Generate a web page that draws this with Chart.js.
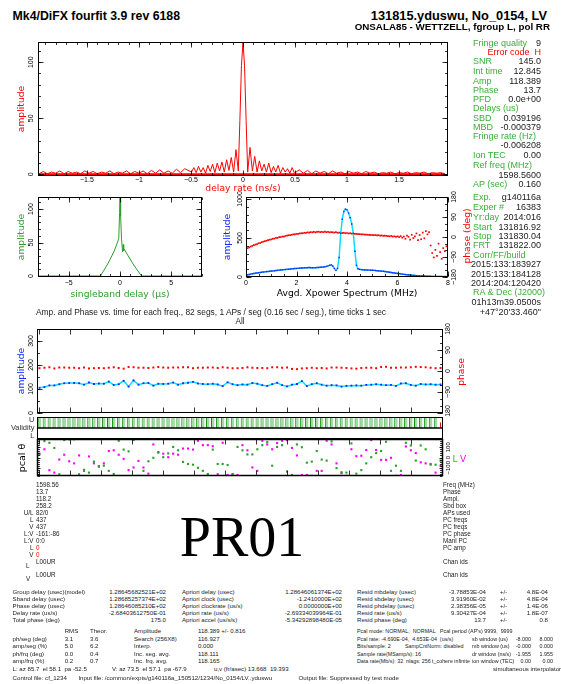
<!DOCTYPE html>
<html>
<head>
<meta charset="utf-8">
<script src="https://cdn.jsdelivr.net/npm/chart.js@4.4.1/dist/chart.umd.min.js"></script>
<style>
	body { margin: 0; background: #fff; }
	#main { position: relative; width: 561px; height: 684px; overflow: hidden; font-family: "Liberation Sans", Arial, sans-serif; }
	#main canvas { position: absolute; }
	.t { position: absolute; white-space: pre; line-height: 1; }
</style>
</head>
<body>
<div id="main"></div>
<script>
// ---- delay rate spectrum (ns/s vs amplitude) ----
const rateX = [-1.96,-1.92,-1.88,-1.84,-1.80,-1.76,-1.72,-1.68,-1.64,-1.60,-1.56,-1.52,-1.48,-1.44,-1.40,-1.36,-1.32,-1.28,-1.24,-1.20,-1.16,-1.12,-1.08,-1.04,-1.00,-0.96,-0.92,-0.88,-0.84,-0.80,-0.76,-0.72,-0.68,-0.64,-0.60,-0.56,
	-0.495,-0.4725,-0.45,-0.4275,-0.405,-0.3825,-0.36,-0.3375,-0.315,-0.2925,-0.27,-0.2475,-0.225,-0.2025,-0.18,-0.1575,-0.135,-0.1125,-0.09,-0.0675,-0.045,-0.03,-0.015,0,
	0.015,0.03,0.045,0.0675,0.09,0.1125,0.135,0.1575,0.18,0.2025,0.225,0.2475,0.27,0.2925,0.315,0.3375,0.36,0.3825,0.405,0.4275,0.45,0.4725,0.495,
	0.54,0.58,0.62,0.66,0.70,0.74,0.78,0.82,0.86,0.90,0.94,0.98,1.02,1.06,1.10,1.14,1.18,1.22,1.26,1.30,1.34,1.38,1.42,1.46,1.50,1.54,1.58,1.62,1.66,1.70,1.74,1.78,1.82,1.86,1.90,1.94]
const rateAmp = [0.5,2.5,0.5,2,1,3,0.5,2.5,1,2,0.5,3,1,2.5,0.5,2,1,3,0.5,2,1,3,0.5,2.5,1,3,0.5,3.5,1,4,1,3,1,4.5,1.5,5,
	2,6,1.5,7,2,6,1,8,2.5,9,1.5,10,3,11,2,13,3.5,15,2,22,3,48,97,118,
	97,48,2,24,3,16,2,12,3,9,2,10,1.5,7,2,8,1,6,2,5,1,6,1,
	4,1,3.5,0.5,3,1,2.5,0.5,3,1,2,0.5,2.5,1,2,0.5,2.5,1,2,0.5,1.5,1,2,0.5,1.5,1,2,0.5,1.5,1,2,0.5,1.5,1,1.5,0.5]
const rateFloor = 0
const rateTicks = [-1.5, -1, -0.5, 0, 0.5, 1, 1.5]
const rateAmpTicks = [0, 50, 100]

// ---- singleband delay (us vs amplitude) ----
const sbdX = [-8, -1.9, -1.2, -0.6, -0.3, -0.12, -0.04, 0, 0.06, 0.15, 0.25, 0.32, 0.36, 0.42, 0.8, 1.4, 2.1, 8]
const sbdAmp = [0, 0, 18, 36, 48, 56, 95, 118, 90, 55, 36, 47, 38, 40, 30, 15, 0, 0]
const sbdTicks = [-5, 0, 5]
const sbdAmpTicks = [0, 50, 100]

// ---- averaged cross power spectrum, 0.0625 MHz channels ----
const xpChanMHz = 0.0625
const xpAmp = [22,28,33,37,41,45,49,52,55,58,61,64,66,69,71,73,
	76,78,80,83,85,88,90,92,94,96,98,100,102,104,106,108,
	110,111,113,115,116,118,119,120,121,119,118,117,119,121,122,124,
	126,128,131,136,143,150,155,140,110,85,110,250,560,740,840,870,
	860,820,760,680,560,330,150,105,98,95,93,91,90,89,88,87,
	86,85,83,81,79,77,75,73,70,67,64,61,58,55,52,49,
	46,43,40,37,34,31,29,27,25,23,21,19,17,16,15,14,
	13,12,11,10,9,9,8,8,7,7,6,6,6,5,5,5]
const xpPhase = [-44,-50,-47,-43,-40,-37,-34,-32,-28,-27,-23,-21,-19,-17,-14,-12,
	-11,-8,-7,-4,-4,-1,0,2,2,5,6,8,8,10,12,12,
	14,14,16,17,17,19,19,21,20,22,21,23,21,23,24,22,
	23,22,24,22,23,21,22,21,20,22,19,20,19,18,19,17,
	18,16,17,15,15,14,14,13,13,12,12,11,11,10,10,9,
	9,8,9,7,8,6,7,5,6,5,4,3,5,2,3,1,
	3,-1,4,-3,2,-8,6,1,-12,10,-5,3,16,-14,9,-10,
	20,-6,26,12,22,-38,-72,-92,-58,-85,-30,-68,-98,-50,-64,-42]
const xpTicks = [0, 2, 4, 6, 8]
const xpAmpTicks = [0, 500, 1000]
const phaseTicks = [-180, -90, 0, 90, 180]

// ---- per segment (82 segs, 0.16 s each) ----
const segSec = 0.16
const segAmp = [105,108,115,115,120,124,125,125,124,118,127,121,123,122,131,117,120,134,110,136,
	118,124,125,114,122,121,122,127,118,124,126,130,123,121,120,122,119,112,128,120,
	116,119,118,125,122,116,113,120,126,116,111,118,121,133,112,120,124,118,114,116,
	115,110,113,114,115,114,117,118,120,118,116,117,113,123,124,117,114,121,119,120,118,119]
const segPhase = [12,14,16,11,15,15,14,14,12,15,11,12,13,12,14,16,13,10,17,16,
	14,14,13,15,17,15,14,15,15,16,16,12,14,14,15,15,13,16,14,12,
	12,13,16,14,13,13,12,16,16,14,15,9,8,11,12,14,12,13,11,15,
	15,14,13,11,10,13,14,14,12,17,18,14,14,15,15,16,18,17,16,14,12,13]
const validFlags = [1,1,1,1,1,1,1,1,1,1,1,1,1,1,1,1,1,1,1,1,1,1,1,1,1,1,1,1,1,1,1,1,1,1,1,1,1,1,1,1,1,
	1,1,1,1,1,1,1,1,1,1,1,1,1,1,1,1,1,1,1,1,1,1,1,1,1,1,1,1,1,1,1,1,1,1,1,1,1,1,1,1,2]
const pcalL = [30,160,143,93,-163,170,177,177,-163,-120,-147,-40,-83,-80,-130,-160,163,77,60,170,
	-178,-130,-37,-3,47,3,40,103,70,-43,-63,-70,-100,-130,-160,77,-63,-63,-73,-163,
	103,70,30,30,80,120,150,-80,103,120,-137,-170,127,100,-50,-40,63,-20,-30,157,
	-103,-143,-147,137,-157,-123,-57,3,43,63,153,-130,-80,-130,143,117,-30,117,80,-70,-70,-30]
const pcalV = [37,80,-123,-147,-20,27,-37,-57,20,-130,10,-57,-90,-57,63,70,27,-13,-123,-97,
	-33,-97,-157,127,53,37,3,37,27,87,87,77,163,120,120,110,-163,143,-170,-163,
	-170,120,70,-97,-130,163,127,80,140,163,170,93,20,-170,-170,-178,-130,-130,163,127,
	-57,-153,-178,80,13,17,73,170,73,-23,-23,-3,-178,-170,107,70,43,-47,-57,-63,-147,-80]
const timeTicks = [0.08,1.08,2.08,3.08,4.08,5.08,6.08,7.08,8.08,9.08,10.08,11.08,12.08,13.08]
const segAmpTicks = [0, 100, 200, 300]
const pcalTicks = [-100, 0, 100]

const RED = "#ff0000", BLUE = "#1428ff", CYAN = "#00e1ff", GREEN = "#2c9e2c"
const TXTGREEN = "#3aae3a", MAGENTA = "#ff00ff", INK = "#222"

const main = document.getElementById("main")

function addText(str, x, y, o = {}) {
	let d = document.createElement("div")
	d.className = "t"
	d.textContent = str
	d.style.left = x + "px"
	d.style.top = y + "px"
	d.style.fontSize = (o.size || 6) + "px"
	d.style.color = o.color || INK
	if (o.bold) d.style.fontWeight = "bold"
	if (o.family) d.style.fontFamily = o.family
	let tx = o.align == "right" ? "-100%" : (o.align == "center" || o.rotate) ? "-50%" : "0"
	let tf = `translate(${tx}, -50%)`
	if (o.rotate) tf += ` rotate(${o.rotate}deg)`
	if (o.squeeze) {
		tf += ` scaleX(${o.squeeze})`
		d.style.transformOrigin = o.align == "right" ? "right center" : "left center"
	}
	d.style.transform = tf
	main.appendChild(d)
}

// black frame round the plot area with inward major/minor ticks
function framePlugin(frame) {
	return {
		id: "frame",
		afterDatasetsDraw(chart) {
			const {ctx, chartArea: a} = chart
			const L = Math.round(a.left) + 0.5, R = Math.round(a.right) - 0.5
			const T = Math.round(a.top) + 0.5, B = Math.round(a.bottom) - 0.5
			ctx.save()
			ctx.strokeStyle = "#000"
			const line = (x1, y1, x2, y2) => { ctx.beginPath(); ctx.moveTo(x1, y1); ctx.lineTo(x2, y2); ctx.stroke() }
			for (const t of frame.ticks || []) {
				const s = chart.scales[t.scale]
				const steps = step => {
					let out = [], k0 = Math.ceil(s.min / step - 1e-9)
					for (let k = k0; k * step <= s.max + 1e-9; k++) out.push(k * step)
					return out
				}
				const groups = [[t.minor ? steps(t.minor) : [], t.minorLen || 2.5], [t.values || steps(t.step), t.len || 5]]
				ctx.lineWidth = 0.8
				for (const g of groups) {
					for (const v of g[0]) {
						const p = Math.round(s.getPixelForValue(v)) + 0.5
						if (s.isHorizontal()) {
							if (t.sides.includes("bottom")) line(p, B, p, B - g[1])
							if (t.sides.includes("top")) line(p, T, p, T + g[1])
						} else {
							if (t.sides.includes("left")) line(L, p, L + g[1], p)
							if (t.sides.includes("right")) line(R, p, R - g[1], p)
						}
					}
				}
			}
			ctx.lineWidth = 1.5
			for (const v of frame.hlines || []) {
				const p = chart.scales.y.getPixelForValue(v)
				line(L, p, R, p)
			}
			ctx.lineWidth = frame.width || 1
			ctx.strokeRect(L, T, R - L, B - T)
			ctx.restore()
		}
	}
}

function addChart(x, y, w, h, config, frame) {
	let canvas = document.createElement("canvas")
	canvas.width = w
	canvas.height = h
	canvas.style.left = x + "px"
	canvas.style.top = y + "px"
	main.appendChild(canvas)
	config.options = Object.assign({responsive: false, animation: false, devicePixelRatio: 1, events: []}, config.options)
	config.options.plugins = {legend: {display: false}, tooltip: {enabled: false}}
	config.plugins = [framePlugin(frame || {})]
	return new Chart(canvas.getContext("2d"), config)
}

function linAxis(min, max, tickVals, o = {}) {
	let a = {
		type: "linear", min, max, bounds: "data",
		position: o.position || "left",
		grid: {display: false, drawTicks: false},
		border: {display: false},
		afterBuildTicks: s => { s.ticks = tickVals.map(v => ({value: v})) },
		ticks: {
			font: {family: "Liberation Sans", size: o.tickSize || 7},
			color: "#000", padding: o.pad || 0, autoSkip: false,
			minRotation: o.vertical ? 90 : 0, maxRotation: o.vertical ? 90 : 0,
			crossAlign: o.vertical ? "center" : "near",
			callback: v => String(v).replace("-", "\u2212")
		},
		afterFit: s => {
			if (s.isHorizontal()) s.height = o.size
			else s.width = o.size
			s.paddingTop = s.paddingBottom = s.paddingLeft = s.paddingRight = 0
		}
	}
	if (o.title) a.title = {display: true, text: o.title, color: o.titleColor, font: {family: "DejaVu Sans", size: 9.2}, padding: o.titlePad}
	return a
}

const pts = (xs, ys) => ys.map((y, i) => ({x: xs[i], y}))
const segPts = ys => ys.map((y, i) => ({x: (i + 0.5) * segSec, y}))
const segEnd = segAmp.length * segSec

// ---------- delay rate ----------
addChart(0, 30, 470, 170, {
	type: "scatter",
	data: {datasets: [
		{data: pts(rateX, rateAmp), showLine: true, borderColor: RED, borderWidth: 1, pointRadius: 0},
		{data: [{x: rateX[0], y: rateFloor}, {x: rateX[rateX.length - 1], y: rateFloor}], showLine: true, borderColor: RED, borderWidth: 2, pointRadius: 0}
	]},
	options: {
		layout: {padding: {top: 12, right: 22}},
		scales: {
			x: linAxis(-1.97, 1.97, rateTicks, {position: "bottom", size: 24, pad: 0, title: "delay rate (ns/s)", titleColor: RED, titlePad: {top: 0, bottom: 5.5}}),
			y: linAxis(-1.5, 118, rateAmpTicks, {vertical: true, size: 38, pad: 0.7, title: "amplitude", titleColor: RED, titlePad: {top: 16.5, bottom: 0}})
		}
	}
}, {ticks: [
	{scale: "x", step: 0.5, minor: 0.1, sides: ["top", "bottom"]},
	{scale: "y", step: 50, minor: 10, sides: ["left", "right"]}
]})

// ---------- singleband delay ----------
addChart(0, 190, 215, 112, {
	type: "scatter",
	data: {datasets: [
		{data: pts(sbdX, sbdAmp), showLine: true, borderColor: GREEN, borderWidth: 1, pointRadius: 0}
	]},
	options: {
		layout: {padding: {top: 7, right: 13}},
		scales: {
			x: linAxis(-8, 8, sbdTicks, {position: "bottom", size: 25, pad: 1.8, title: "singleband delay (\u03bcs)", titleColor: GREEN, titlePad: {top: 0, bottom: 1.5}}),
			y: linAxis(-1.5, 118, sbdAmpTicks, {vertical: true, size: 38, pad: 0.7, title: "amplitude", titleColor: GREEN, titlePad: {top: 16.5, bottom: 0}})
		}
	}
}, {ticks: [
	{scale: "x", step: 5, minor: 1, sides: ["top", "bottom"]},
	{scale: "y", step: 50, minor: 10, sides: ["left", "right"]}
]})

// ---------- cross power spectrum ----------
addChart(210, 190, 270, 112, {
	type: "scatter",
	data: {datasets: [
		{data: xpAmp.map((y, i) => ({x: i * xpChanMHz, y})), showLine: true, borderColor: CYAN, borderWidth: 1.5,
			pointRadius: 1, pointStyle: "rect", pointBackgroundColor: BLUE, pointBorderWidth: 0, yAxisID: "y"},
		{data: xpPhase.map((y, i) => ({x: i * xpChanMHz, y})), pointRadius: 1.2, pointStyle: "rect",
			pointBackgroundColor: RED, pointBorderWidth: 0, yAxisID: "y2"}
	]},
	options: {
		layout: {padding: {top: 7}},
		scales: {
			x: linAxis(0, 8, xpTicks, {position: "bottom", size: 25, pad: 1.8, title: "Avgd. Xpower Spectrum (MHz)", titleColor: "#000", titlePad: {top: 0, bottom: 3.2}}),
			y: linAxis(0, 1025, xpAmpTicks, {vertical: true, size: 36, pad: -2, title: "amplitude", titleColor: BLUE, titlePad: {top: 12.5, bottom: 0}}),
			y2: linAxis(-180, 180, phaseTicks, {position: "right", vertical: true, size: 32, pad: -1.4})
		}
	}
}, {ticks: [
	{scale: "x", step: 2, minor: 0.5, sides: ["top", "bottom"]},
	{scale: "y", step: 500, minor: 100, sides: ["left"]},
	{scale: "y2", step: 90, minor: 30, sides: ["right"]}
]})

// ---------- amplitude & phase vs time ----------
addChart(0, 320, 459, 97, {
	type: "scatter",
	data: {datasets: [
		{data: segPts(segAmp), showLine: true, borderColor: CYAN, borderWidth: 1.5,
			pointRadius: 1.3, pointStyle: "rect", pointBackgroundColor: BLUE, pointBorderWidth: 0, yAxisID: "y"},
		{data: segPts(segPhase), pointRadius: 1.4, pointStyle: "rect", pointBackgroundColor: RED, pointBorderWidth: 0, yAxisID: "y2"}
	]},
	options: {
		layout: {padding: {top: 9}},
		scales: {
			x: {type: "linear", display: false, min: 0, max: segEnd},
			y: linAxis(0, 350, segAmpTicks, {vertical: true, size: 37, pad: 0, title: "amplitude", titleColor: BLUE, titlePad: {top: 16, bottom: 0}}),
			y2: linAxis(-180, 180, phaseTicks, {position: "right", vertical: true, size: 16, pad: -2.6})
		}
	}
}, {ticks: [
	{scale: "x", values: timeTicks, len: 5, sides: ["top", "bottom"]},
	{scale: "y", step: 100, minor: 50, sides: ["left"]},
	{scale: "y2", step: 90, minor: 30, sides: ["right"]}
]})

// ---------- validity strip ----------
addChart(0, 412, 459, 30, {
	type: "bar",
	data: {
		labels: validFlags.map((f, i) => i + 1),
		datasets: [
			{data: validFlags.map(f => f == 1 ? [1, 2] : null), backgroundColor: "#a3d9a3", borderColor: "#0c8f0c",
				borderWidth: {left: 1, right: 0, top: 0, bottom: 0}, borderSkipped: false, barPercentage: 0.72, categoryPercentage: 1, grouped: false},
			{data: validFlags.map(f => f == 2 ? [1, 1.5] : null), backgroundColor: RED, barPercentage: 0.22, categoryPercentage: 1, grouped: false}
		]
	},
	options: {
		layout: {padding: {left: 37, right: 16, top: 5, bottom: 3}},
		scales: {x: {display: false}, y: {display: false, min: 0, max: 2}}
	}
}, {hlines: [1]})

// ---------- phase cal ----------
addChart(0, 432, 459, 48, {
	type: "scatter",
	data: {datasets: [
		{data: segPts(pcalL), pointRadius: 1.5, pointStyle: "rect", pointBackgroundColor: GREEN, pointBorderWidth: 0},
		{data: segPts(pcalV), pointRadius: 1.5, pointStyle: "rect", pointBackgroundColor: MAGENTA, pointBorderWidth: 0}
	]},
	options: {
		layout: {padding: {left: 37, top: 7, bottom: 4}},
		scales: {
			x: {type: "linear", display: false, min: 0, max: segEnd},
			y: linAxis(-180, 180, pcalTicks, {position: "right", vertical: true, size: 16, pad: -1.8, tickSize: 6})
		}
	}
}, {width: 1.5, ticks: [
	{scale: "x", values: timeTicks, len: 5, sides: ["top", "bottom"]},
	{scale: "y", step: 100, minor: 20, len: 3, sides: ["left", "right"]}
]})

// ---------- header ----------
addText("Mk4/DiFX fourfit 3.9 rev 6188", 12.6, 15.5, {size: 12.3, bold: true, color: "#000"})
addText("131815.yduswu, No_0154, LV", 547, 15.5, {size: 12.8, bold: true, color: "#000", align: "right"})
addText("ONSALA85 - WETTZELL, fgroup L, pol RR", 550, 27, {size: 9.8, bold: true, color: "#000", align: "right"})

// ---------- fringe summary column ----------
const info = [
	["Fringe quality", "9", 42.5], ["SNR", "145.0", 61], ["Int time", "12.845", 70.7], ["Amp", "118.389", 80.5],
	["Phase", "13.7", 89.5], ["PFD", "0.0e+00", 98.5], ["Delays (us)", null, 108], ["SBD", "0.039196", 117.5],
	["MBD", "-0.000379", 126.5], ["Fringe rate (Hz)", null, 135.7], [null, "-0.006208", 145], ["Ion TEC", "0.00", 155],
	["Ref freq (MHz)", null, 165], [null, "1598.5600", 175], ["AP (sec)", "0.160", 184],
	["Exp.", "g140116a", 197.3], ["Exper #", "16383", 207], ["Yr:day", "2014:016", 216.7], ["Start", "131816.92", 226.5],
	["Stop", "131830.04", 236], ["FRT", "131822.00", 245.3], ["Corr/FF/build", null, 254.5],
	[null, "2015:133:183927", 264], [null, "2015:133:184128", 273.5], [null, "2014:204:120420", 283],
	["RA & Dec (J2000)", null, 292.3], [null, "01h13m39.0500s", 302], [null, "+47\u00b020'33.460\"", 311.5]
]
for (const [label, value, y] of info) {
	if (label) addText(label, 473, y, {size: 9, color: TXTGREEN})
	if (value) addText(value, 541, y, {size: 9, color: INK, align: "right"})
}
addText("Error code  H", 541, 52, {size: 9, color: RED, align: "right"})

// ---------- titles and labels round the time plots ----------
addText("phase (deg)", 467, 236, {size: 9.2, color: RED, family: "DejaVu Sans", rotate: -90})
addText("phase", 461, 372, {size: 9.2, color: RED, family: "DejaVu Sans", rotate: -90})
addText("Amp. and Phase vs. time for each freq., 82 segs, 1 APs / seg (0.16 sec / seg.), time ticks 1 sec", 36, 311.5, {size: 8.4})
addText("All", 240, 322, {size: 8.2, align: "center"})
addText("U", 34.5, 420, {size: 7.5, color: "#333", align: "right"})
addText("Validity", 34.5, 427.5, {size: 7.5, color: "#333", align: "right"})
addText("L", 34.5, 435.5, {size: 7.5, color: "#333", align: "right"})
addText("pcal \u03b8", 22, 458, {size: 9.5, color: "#000", family: "DejaVu Sans", rotate: -90})
addText("L", 455, 459, {size: 9, color: TXTGREEN, family: "DejaVu Sans", align: "center"})
addText("V", 463, 459, {size: 9, color: MAGENTA, family: "DejaVu Sans", align: "center"})

// ---------- per-channel block ----------
const chanRows = [
	["", "1598.56", "Freq (MHz)"], ["", "13.7", "Phase"], ["", "118.2", "Ampl."], ["", "258.2", "Sbd box"],
	["U/L", "82/0", "APs used"], ["L", "437", "PC freqs"], ["V", "437", "PC freqs"], ["L:V", "-161:-86", "PC phase"],
	["L:V", "0:0", "Manl PC"], ["L", "0", "PC amp"], ["V", "0", ""]
]
chanRows.forEach(([lab, val, right], i) => {
	const y = 485 + 7 * i
	if (lab) addText(lab, 33.5, y, {size: 6.3, align: "right"})
	addText(val, 36, y, {size: 6.3, color: i >= 9 ? RED : INK})
	if (right) addText(right, 443, y, {size: 6.3})
})
addText("L00UR", 36, 562, {size: 6.3})
addText("L", 26, 566, {size: 6.3})
addText("Chan ids", 443, 562, {size: 6.3})
addText("L00UR", 36, 575, {size: 6.3})
addText("V", 26, 579, {size: 6.3})
addText("Chan ids", 443, 575, {size: 6.3})
addText("PR01", 242, 537, {size: 56, color: "#000", family: "Liberation Serif", align: "center"})

// ---------- delay / rate table ----------
const table = [
	[592, [[12.6, "Group delay (usec)(model)"], [166, "1.28645682521E+02", "right"], [182, "Apriori delay (usec)"], [342, "1.28646061374E+02", "right"], [357, "Resid mbdelay (usec)"], [486, "-3.78853E-04", "right"], [500, "+/-"], [548, "4.8E-04", "right"]]],
	[599, [[12.6, "Sband delay (usec)"], [166, "1.28685257374E+02", "right"], [182, "Apriori clock (usec)"], [342, "-1.2410000E+02", "right"], [357, "Resid sbdelay (usec)"], [486, "3.91960E-02", "right"], [500, "+/-"], [548, "4.8E-04", "right"]]],
	[606, [[12.6, "Phase delay (usec)"], [166, "1.28646085210E+02", "right"], [182, "Apriori clockrate (us/s)"], [342, "0.0000000E+00", "right"], [357, "Resid phdelay (usec)"], [486, "2.38356E-05", "right"], [500, "+/-"], [548, "1.4E-06", "right"]]],
	[613, [[12.6, "Delay rate (us/s)"], [166, "-2.68403612750E-01", "right"], [182, "Apriori rate (us/s)"], [342, "-2.69334039964E-01", "right"], [357, "Resid rate (us/s)"], [486, "9.30427E-04", "right"], [500, "+/-"], [548, "1.8E-07", "right"]]],
	[620, [[12.6, "Total phase (deg)"], [166, "175.0", "right"], [182, "Apriori accel (us/s/s)"], [342, "-5.34292898480E-05", "right"], [357, "Resid phase (deg)"], [486, "13.7", "right"], [500, "+/-"], [548, "0.8", "right"]]],
	[631, [[64.7, "RMS"], [90, "Theor."], [134, "Amplitude"], [198, "118.389 +/- 0.816"], [357, "Pcal mode: NORMAL,  NORMAL", 0, 1], [440, "Pcal period (AP's) 9999,  9999", 0, 1]]],
	[639, [[12.6, "ph/seg (deg)"], [64.7, "3.1"], [90, "3.6"], [134, "Search (256X8)"], [198, "116.927"], [357, "Pcal rate: -4.690E-04,  4.653E-04  (us/s)", 0, 1], [472, "sb window (us)", 0, 1], [531, "-8.000", "right", 1], [553, "8.000", "right", 1]]],
	[646, [[12.6, "amp/seg (%)"], [64.7, "5.0"], [90, "6.2"], [134, "Interp."], [198, "0.000"], [357, "Bits/sample: 2", 0, 1], [405, "SampCntNorm: disabled", 0, 1], [472, "mb window (us)", 0, 1], [531, "-0.000", "right", 1], [553, "0.000", "right", 1]]],
	[654, [[12.6, "ph/frq (deg)"], [64.7, "0.0"], [90, "0.4"], [134, "Inc. seg. avg."], [198, "118.111"], [357, "Sample rate(MSamp/s): 16", 0, 1], [472, "dr window (ns/s)", 0, 1], [531, "-1.955", "right", 1], [553, "1.955", "right", 1]]],
	[661, [[12.6, "amp/frq (%)"], [64.7, "0.2"], [90, "0.7"], [134, "Inc. frq. avg."], [198, "118.165"], [357, "Data rate(Mb/s): 32", 0, 1], [406, "nlags: 256", 0, 1], [432, "t_cohere infinite", 0, 1], [472, "ion window (TEC)", 0, 1], [531, "0.00", "right", 1], [553, "0.00", "right", 1]]],
	[669, [[12.6, "L: az 85.7  el 58.1  pa -52.5"], [112, "V: az 73.5  el 57.1  pa -67.9"], [214, "u,v (fr/asec) 13.668  19.393"], [493, "simultaneous interpolator"]]],
	[678, [[12.6, "Control file: cf_1234"], [78.4, "Input file: /common/expts/g140116a_150512/1234/No_0154/LV..yduswu"], [298.6, "Output file: Suppressed by test mode"]]]
]
for (const [y, cells] of table) {
	for (const [x, s, align, tight] of cells) addText(s, x, y, {size: 6.1, align: align || undefined, squeeze: tight ? 0.88 : 0})
}
</script>
</body>
</html>
